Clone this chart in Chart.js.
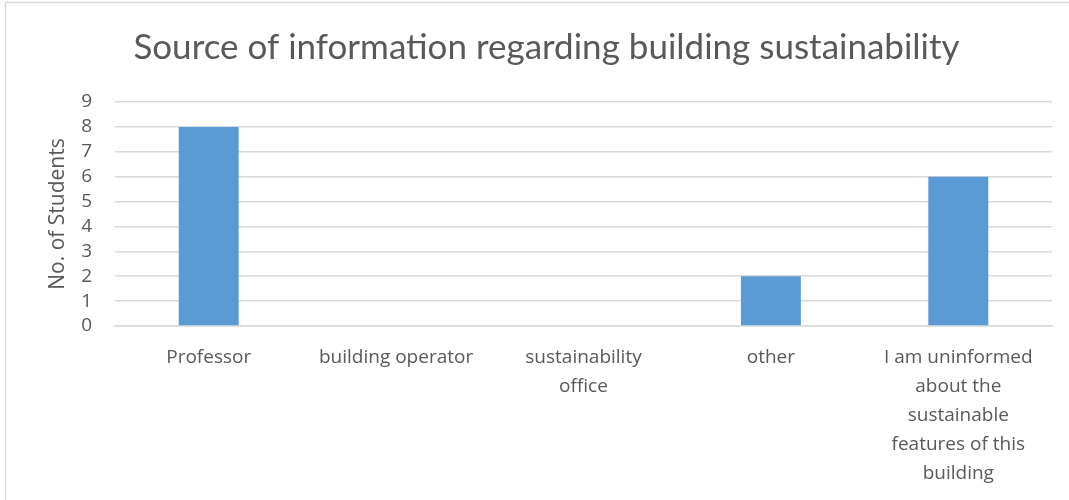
<!DOCTYPE html>
<html>
<head>
<meta charset="utf-8">
<script src="https://cdn.jsdelivr.net/npm/chart.js@4.4.0/dist/chart.umd.min.js"></script>
<style>
  html, body { margin: 0; padding: 0; background: #fff; }
  #wrap { width: 1069px; height: 500px; position: relative; }
</style>
</head>
<body>
<div id="wrap"><canvas id="fontesChart" width="1069" height="500"></canvas></div>
<script>
const categorias = [
  'Professor',
  'building operator',
  ['sustainability', 'office'],
  'other',
  ['I am uninformed', 'about the', 'sustainable', 'features of this', 'building']
];
const alunos = [8, 0, 0, 2, 6];
const marcasY = [0, 1, 2, 3, 4, 5, 6, 7, 8, 9];

const cinza = '#595959';

// moldura clara no topo e à esquerda
const moldura = {
  id: 'moldura',
  beforeDraw(chart) {
    const c = chart.ctx;
    c.save();
    c.strokeStyle = '#d9d9d9';
    c.lineWidth = 1.5;
    c.beginPath();
    c.moveTo(5.5, 500);
    c.lineTo(5.5, 2.5);
    c.lineTo(1069, 2.5);
    c.stroke();
    c.restore();
  }
};

const ctx = document.getElementById('fontesChart').getContext('2d');

new Chart(ctx, {
  type: 'bar',
  data: {
    labels: categorias,
    datasets: [{
      label: 'No. of Students',
      data: alunos,
      backgroundColor: '#5b9bd5',
      barPercentage: 0.64,
      categoryPercentage: 0.5
    }]
  },
  plugins: [moldura],
  options: {
    responsive: false,
    animation: false,
    layout: {
      padding: { left: 41, right: 17, top: 0, bottom: 0 }
    },
    plugins: {
      legend: { display: false },
      tooltip: { enabled: false },
      title: {
        display: true,
        text: 'Source of information regarding building sustainability',
        color: cinza,
        font: { family: 'Lato', size: 35, weight: 'normal' },
        padding: { top: 27, bottom: 33 }
      }
    },
    scales: {
      y: {
        min: 0,
        max: 9,
        afterFit(scale) { scale.width = 74; },
        afterBuildTicks(scale) { scale.ticks = marcasY.map(v => ({ value: v })); },
        grid: { color: '#d9d9d9', lineWidth: 1.5, drawTicks: false },
        border: { display: false },
        ticks: {
          color: cinza,
          padding: 23,
          autoSkip: false,
          font: { family: 'Open Sans', size: 19 }
        },
        title: {
          display: true,
          text: 'No. of Students',
          color: cinza,
          font: { family: 'Open Sans', size: 21 }
        }
      },
      x: {
        afterFit(scale) { scale.height = 174; },
        grid: { display: false, drawTicks: false },
        border: { color: '#d9d9d9', width: 1.5 },
        ticks: {
          color: cinza,
          padding: 17,
          maxRotation: 0,
          autoSkip: false,
          font: { family: 'Open Sans', size: 19, lineHeight: 1.53 }
        }
      }
    }
  }
});
</script>
</body>
</html>
